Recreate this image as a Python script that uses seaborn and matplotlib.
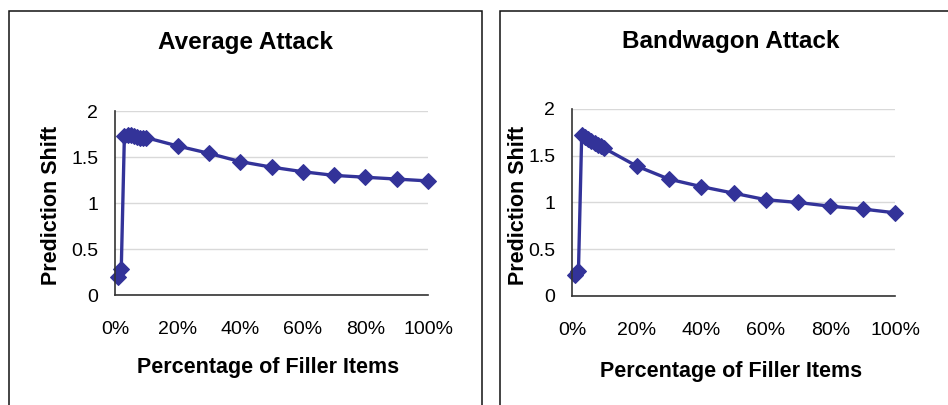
import matplotlib
matplotlib.use("Agg")
import matplotlib.pyplot as plt
from matplotlib.patches import Rectangle
from matplotlib.ticker import FuncFormatter, FixedLocator
import pandas as pd
import seaborn as sns

# Filler size (% of items) and resulting prediction shift
filler_pct = [1, 2, 3, 4, 5, 6, 7, 8, 9, 10, 20, 30, 40, 50, 60, 70, 80, 90, 100]
average_shift = [0.20, 0.28, 1.73, 1.74, 1.74, 1.73, 1.72, 1.71, 1.71, 1.71,
                 1.62, 1.54, 1.45, 1.39, 1.34, 1.30, 1.28, 1.26, 1.24]
bandwagon_shift = [0.22, 0.27, 1.72, 1.70, 1.68, 1.66, 1.64, 1.62, 1.60, 1.58,
                   1.39, 1.25, 1.17, 1.10, 1.03, 1.00, 0.96, 0.93, 0.89]

titles = ["Average Attack", "Bandwagon Attack"]
xlabel = "Percentage of Filler Items"
ylabel = "Prediction Shift"
x_ticks = [0, 20, 40, 60, 80, 100]
y_ticks = [0, 0.5, 1, 1.5, 2]

sns.set_style("white")
plt.rcParams["font.family"] = ["Liberation Sans", "DejaVu Sans"]

W, H = 948, 405
fig = plt.figure(figsize=(W / 100, H / 100), dpi=100)

LINE = "#333399"
GRID = "#d9d9d9"
AXIS = "#333333"
TEXT = "#000000"

# panel frames (pixel coords: left, top, right, bottom)
frames = [(9, 11, 482, 420), (500, 11, 960, 420)]
for (l, t, r, b) in frames:
    fig.patches.append(Rectangle((l / W, 1 - b / H), (r - l) / W, (b - t) / H,
                                 transform=fig.transFigure, fill=False,
                                 edgecolor="#111111", linewidth=1.1, zorder=0))

# plot areas in pixels: x0, x1, ytop(=2), ybottom(=0)
areas = [(115, 428, 111, 295), (572, 895, 109, 296)]
# label placements in pixels: title (x, y), xlabel (x, y), ylabel (x, y)
label_pos = [((245, 43), (268, 367), (52, 205)),
             ((731, 42), (731, 371), (519, 205))]

def px_to_axes(area, px, py):
    x0, x1, yt, yb = area
    return (px - x0) / (x1 - x0), (yb - py) / (yb - yt)

for area, shift, title, lp in zip(areas, [average_shift, bandwagon_shift], titles, label_pos):
    x0, x1, yt, yb = area
    ax = fig.add_axes([x0 / W, 1 - yb / H, (x1 - x0) / W, (yb - yt) / H])
    df = pd.DataFrame({"filler": filler_pct, "shift": shift})
    sns.lineplot(data=df, x="filler", y="shift", ax=ax, color=LINE,
                 linewidth=2.4, marker="D", markersize=8.5,
                 markeredgecolor=LINE, markerfacecolor=LINE, clip_on=False)
    ax.set_xlim(0, 100)
    ax.set_ylim(0, 2)
    ax.xaxis.set_major_locator(FixedLocator(x_ticks))
    ax.yaxis.set_major_locator(FixedLocator(y_ticks))
    ax.xaxis.set_major_formatter(FuncFormatter(lambda v, p: f"{v:g}%"))
    ax.yaxis.set_major_formatter(FuncFormatter(lambda v, p: f"{v:g}"))
    ax.grid(axis="y", color=GRID, linewidth=1.0)
    ax.grid(axis="x", visible=False)
    ax.set_axisbelow(True)
    for s in ["top", "right"]:
        ax.spines[s].set_visible(False)
    for s in ["left", "bottom"]:
        ax.spines[s].set_color(AXIS)
        ax.spines[s].set_linewidth(1.2)
    ax.tick_params(axis="x", direction="out", length=4, width=1.0, color=AXIS,
                   labelsize=14, pad=15, labelcolor=TEXT)
    ax.tick_params(axis="y", direction="out", length=4, width=1.0, color=AXIS,
                   labelsize=14, pad=8, labelcolor=TEXT)
    ax.set_facecolor("none")

    (tx, ty), (xx, xy), (yx, yy) = lp
    tpx, tpy = px_to_axes(area, tx, ty)
    ax.set_title(title, fontsize=17.5, fontweight="bold", color=TEXT,
                 x=tpx, y=tpy, pad=0, va="center", ha="center")
    ax.set_xlabel(xlabel, fontsize=15.5, fontweight="bold", color=TEXT, va="center")
    ax.xaxis.set_label_coords(*px_to_axes(area, xx, xy))
    ax.set_ylabel(ylabel, fontsize=15.5, fontweight="bold", color=TEXT, va="center")
    ax.yaxis.set_label_coords(*px_to_axes(area, yx, yy))

fig.savefig("out.png", dpi=100, facecolor="white")
